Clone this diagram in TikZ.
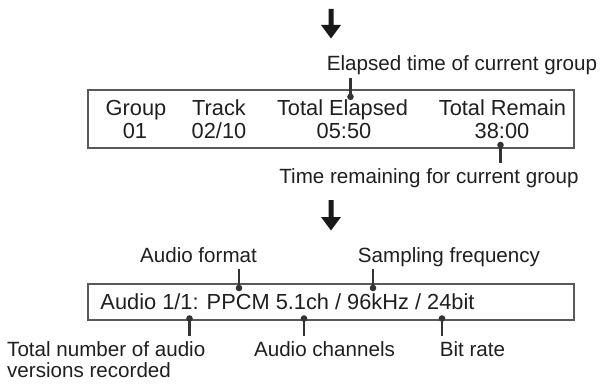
\documentclass[tikz,border=0pt]{standalone}
\usepackage{fontspec}
\setmainfont{Liberation Sans}
\begin{document}
\begin{tikzpicture}[x=1pt,y=-1pt,
  boxtext/.style={font=\fontsize{21.8}{24}\selectfont, text=black!88, anchor=base, inner sep=0},
  lbl/.style={font=\fontsize{20.6}{23}\selectfont, text=black!88, anchor=base, inner sep=0},
  frame/.style={draw=black!65, line width=1.3pt, inner sep=0},
  dotn/.style={circle, fill=black!80, inner sep=0, minimum size=6.6pt},
  conn/.style={draw=black!80, line width=2.3pt},
  downarrow/.style={fill=black!90}]
\useasboundingbox (0,0) rectangle (600,385);
% arrows
\fill[downarrow] (328.5,9) -- (333.5,9) -- (333.5,25) -- (341,25) -- (331,38.5) -- (321,25) -- (328.5,25) -- cycle;
\fill[downarrow] (328.5,200) -- (333.5,200) -- (333.5,217) -- (341,217) -- (331,230.5) -- (321,217) -- (328.5,217) -- cycle;
% box 1
\node[frame, minimum width=486pt, minimum height=58pt] (box1) at (331,119) {};
\node[boxtext] (group) at (136,116) {Group};
\node[boxtext] (g01) at (135,139) {01};
\node[boxtext] (track) at (219,116) {Track};
\node[boxtext] (t0210) at (219,139) {02/10};
\node[boxtext] (telapsed) at (342.5,116) {Total Elapsed};
\node[boxtext] (t0550) at (344,139) {05:50};
\node[boxtext] (tremain) at (502.5,116) {Total Remain};
\node[boxtext] (t3800) at (502,139) {38:00};
\node[lbl] (elab) at (462,71) {Elapsed time of current group};
\node[lbl] (rlab) at (429,184) {Time remaining for current group};
\node[dotn] (d1) at (350.5,96.8) {};
\coordinate (c1) at (350.5,78.5);
\draw[conn] (d1.center) -- (c1);
\node[dotn] (d2) at (500.5,145) {};
\coordinate (c2) at (500.5,163);
\draw[conn] (d2.center) -- (c2);
% box 2
\node[frame, minimum width=486pt, minimum height=36pt] (box2) at (331,302) {};
\node[boxtext] (audio) at (287.5,309) {Audio 1/1: PPCM 5.1ch / 96kHz / 24bit};
\node[lbl] (aformat) at (198.5,262) {Audio format};
\node[lbl] (sfreq) at (449,262) {Sampling frequency};
\node[lbl, anchor=base west] (tnum) at (7,356) {Total number of audio};
\node[lbl, anchor=base west] (vrec) at (7,377) {versions recorded};
\node[lbl] (achan) at (324.5,356) {Audio channels};
\node[lbl] (brate) at (472.5,356) {Bit rate};
\node[dotn] (d3) at (239,288) {};
\coordinate (c3) at (239,269);
\draw[conn] (d3.center) -- (c3);
\node[dotn] (d4) at (373,288) {};
\coordinate (c4) at (373,269);
\draw[conn] (d4.center) -- (c4);
\node[dotn] (d5) at (189.5,318.5) {};
\coordinate (c5) at (189.5,336);
\draw[conn] (d5.center) -- (c5);
\node[dotn] (d6) at (304,318.5) {};
\coordinate (c6) at (304,336);
\draw[conn] (d6.center) -- (c6);
\node[dotn] (d7) at (442,318.5) {};
\coordinate (c7) at (442,336);
\draw[conn] (d7.center) -- (c7);
\end{tikzpicture}
\end{document}
